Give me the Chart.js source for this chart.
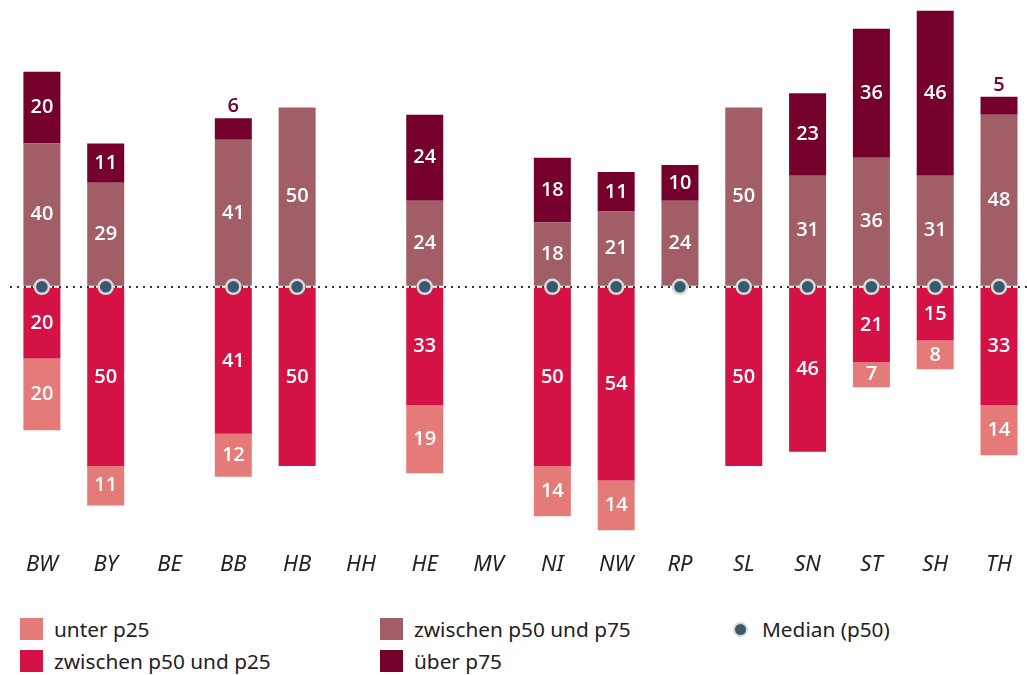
<!DOCTYPE html>
<html>
<head>
<meta charset="utf-8">
<script src="https://cdn.jsdelivr.net/npm/chart.js@4.4.1/dist/chart.umd.min.js"></script>
<style>
  html, body { margin: 0; padding: 0; background: #fff; overflow: hidden; }
  body { width: 1027px; height: 675px; position: relative; font-family: "Noto Sans", sans-serif; color: #222; }
  #wrap { position: absolute; left: 0; top: 0; width: 1033px; height: 599px; }
  .legend { position: absolute; font-size: 20.8px; line-height: 22px; }
  .legend .row { position: relative; height: 32px; padding-left: 34px; }
  .legend .sw { position: absolute; left: 0; top: 0; width: 23px; height: 22px; }
  .legend .dot { position: absolute; left: 5px; top: 4px; width: 11px; height: 11px; border-radius: 50%;
                 background: #3e5868; border: 2.5px solid #d0dbe2; }
</style>
</head>
<body>
<div id="wrap"><canvas id="c"></canvas></div>
<div class="legend" style="left:20px; top:618px">
  <div class="row"><span class="sw" style="background:#e57b78"></span>unter p25</div>
  <div class="row"><span class="sw" style="background:#d51245"></span>zwischen p50 und p25</div>
</div>
<div class="legend" style="left:380px; top:618px">
  <div class="row"><span class="sw" style="background:#a25e67"></span>zwischen p50 und p75</div>
  <div class="row"><span class="sw" style="background:#75002c"></span>über p75</div>
</div>
<div class="legend" style="left:728px; top:618px">
  <div class="row"><span class="dot"></span>Median (p50)</div>
</div>
<script>
"use strict";

const states = ["BW", "BY", "BE", "BB", "HB", "HH", "HE", "MV", "NI", "NW", "RP", "SL", "SN", "ST", "SH", "TH"];
// segments below the median (drawn as negative values)
const unterP25   = [20, 11, null, 12, null, null, 19, null, 14, 14, null, null, null, 7, 8, 14];
const p50bisP25  = [20, 50, null, 41, 50, null, 33, null, 50, 54, null, 50, 46, 21, 15, 33];
// segments above the median
const p50bisP75  = [40, 29, null, 41, 50, null, 24, null, 18, 21, 24, 50, 31, 36, 31, 48];
const ueberP75   = [20, 11, null, 6, null, null, 24, null, 18, 11, 10, null, 23, 36, 46, 5];
const median     = [0, 0, null, 0, 0, null, 0, null, 0, 0, 0, 0, 0, 0, 0, 0];

const neg = (arr) => arr.map((v) => (v == null ? null : -v));

function bar(label, data, color) {
  return {
    type: "bar", label, data, backgroundColor: color, borderWidth: 0,
    barPercentage: 0.58, categoryPercentage: 1, stack: "s", order: 1,
  };
}

const valueLabels = {
  id: "valueLabels",
  afterDatasetsDraw(chart) {
    const ctx = chart.ctx;
    ctx.save();
    ctx.font = "600 20px 'Open Sans', 'Noto Sans', sans-serif";
    ctx.textAlign = "center";
    chart.data.datasets.forEach((ds, i) => {
      if (ds.type !== "bar") return;
      const meta = chart.getDatasetMeta(i);
      meta.data.forEach((el, j) => {
        const v = ds.data[j];
        if (v == null) return;
        const a = Math.abs(v);
        if (a < 7) {
          ctx.fillStyle = ds.backgroundColor;
          ctx.textBaseline = "bottom";
          ctx.fillText(String(a), el.x, Math.min(el.y, el.base) - 2);
        } else {
          ctx.fillStyle = "#fff";
          ctx.textBaseline = "middle";
          ctx.fillText(String(a), el.x, (el.y + el.base) / 2);
        }
      });
    });
    ctx.restore();
  }
};

new Chart(document.getElementById("c"), {
  data: {
    labels: states,
    datasets: [
      {
        type: "line", label: "Median (p50)", data: median, showLine: false, stack: "m", order: 0,
        pointRadius: 7, pointHoverRadius: 7, pointBackgroundColor: "#3e5868",
        pointBorderColor: "#d0dbe2", pointBorderWidth: 2.5,
      },
      bar("zwischen p50 und p25", neg(p50bisP25), "#d51245"),
      bar("unter p25", neg(unterP25), "#e57b78"),
      bar("zwischen p50 und p75", p50bisP75, "#a25e67"),
      bar("über p75", ueberP75, "#75002c"),
    ]
  },
  options: {
    responsive: true,
    maintainAspectRatio: false,
    animation: false,
    layout: { autoPadding: false, padding: { left: 10, right: 0, top: 0, bottom: 0 } },
    plugins: { legend: { display: false }, tooltip: { enabled: false } },
    scales: {
      x: {
        stacked: true,
        grid: { display: false, drawTicks: false },
        border: { display: false },
        ticks: { color: "#222", padding: 21, font: { family: "'Noto Sans', sans-serif", size: 22, style: "italic" } }
      },
      y: {
        stacked: true,
        min: -68, max: 80,
        ticks: { display: false, stepSize: 4 },
        border: { display: false, dash: [2, 5] },
        grid: {
          drawTicks: false, lineWidth: 2,
          color: (c) => (c.tick && c.tick.value === 0 ? "#333" : "rgba(0,0,0,0)")
        }
      }
    }
  },
  plugins: [valueLabels]
});
</script>
</body>
</html>
